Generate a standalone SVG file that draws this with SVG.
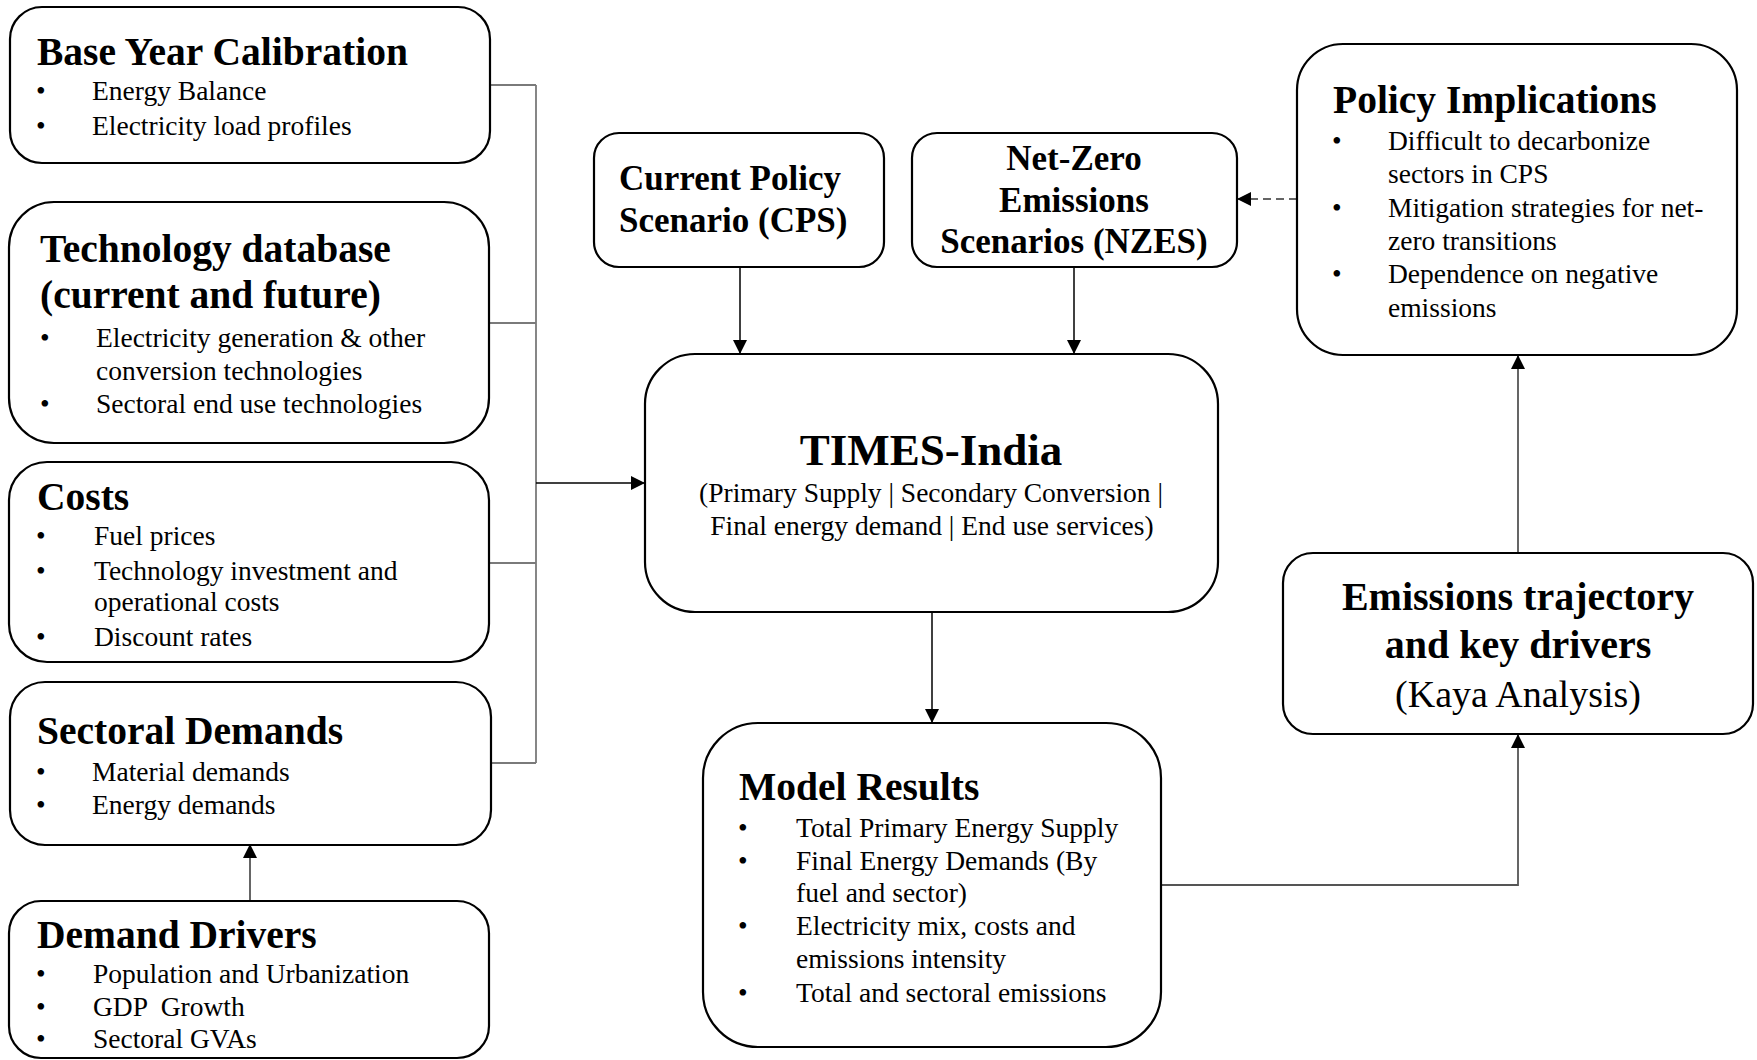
<svg xmlns="http://www.w3.org/2000/svg" width="1757" height="1060" viewBox="0 0 1757 1060">
<style>
.box{fill:#fff;stroke:#000;stroke-width:2.2}
.h{font-family:'Liberation Serif','Times New Roman',serif;font-weight:bold;font-size:39.5px;fill:#000}
.hs{font-family:'Liberation Serif','Times New Roman',serif;font-weight:bold;font-size:35px;fill:#000}
.b{font-family:'Liberation Serif','Times New Roman',serif;font-size:27.5px;fill:#000;white-space:pre}
.mid{text-anchor:middle}
.conn{fill:none;stroke:#000;stroke-width:1.5}
.bus{fill:none;stroke:#7a7a7a;stroke-width:1.8}
.gray{fill:none;stroke:#555;stroke-width:1.8}
.dash{fill:none;stroke:#333;stroke-width:1.5;stroke-dasharray:8 5}
</style>
<defs>
<marker id="ah" markerUnits="userSpaceOnUse" markerWidth="14" markerHeight="14" refX="14" refY="7" orient="auto">
<path d="M0,0 L14,7 L0,14 z" fill="#000"/>
</marker>
</defs>
<g id="connectors">
<path class="bus" d="M490,85 H536 M490,323 H536 M490,563 H536 M491,763 H536 M536,85 V763"/>
<path class="conn" d="M536,483 H645" marker-end="url(#ah)"/>
<path class="conn" d="M740,267 V354" marker-end="url(#ah)"/>
<path class="conn" d="M1074,267 V354" marker-end="url(#ah)"/>
<path class="conn" d="M932,612 V723" marker-end="url(#ah)"/>
<path class="gray" d="M1161,885 H1518 V734" marker-end="url(#ah)"/>
<path class="gray" d="M1518,553 V355" marker-end="url(#ah)"/>
<path class="dash" d="M1297,199 H1237" marker-end="url(#ah)"/>
<path class="gray" d="M250,901 V844" marker-end="url(#ah)"/>
</g>
<g id="base-year">
<rect class="box" x="10" y="7" width="480" height="156" rx="32"/>
<text class="h" x="37" y="65">Base Year Calibration</text>
<text class="b" x="36" y="100">•</text><text class="b" x="92" y="100">Energy Balance</text>
<text class="b" x="36" y="135">•</text><text class="b" x="92" y="135">Electricity load profiles</text>
</g>
<g id="technology">
<rect class="box" x="9" y="202" width="480" height="241" rx="45"/>
<text class="h" x="40" y="262">Technology database</text>
<text class="h" x="40" y="308">(current and future)</text>
<text class="b" x="40" y="347">•</text><text class="b" x="96" y="347">Electricity generation &amp; other</text>
<text class="b" x="96" y="380">conversion technologies</text>
<text class="b" x="40" y="413">•</text><text class="b" x="96" y="413">Sectoral end use technologies</text>
</g>
<g id="costs">
<rect class="box" x="9" y="462" width="480" height="200" rx="38"/>
<text class="h" x="37" y="510">Costs</text>
<text class="b" x="36" y="545">•</text><text class="b" x="94" y="545">Fuel prices</text>
<text class="b" x="36" y="580">•</text><text class="b" x="94" y="580">Technology investment and</text>
<text class="b" x="94" y="611">operational costs</text>
<text class="b" x="36" y="646">•</text><text class="b" x="94" y="646">Discount rates</text>
</g>
<g id="sectoral-demands">
<rect class="box" x="10" y="682" width="481" height="163" rx="35"/>
<text class="h" x="37" y="744">Sectoral Demands</text>
<text class="b" x="36" y="781">•</text><text class="b" x="92" y="781">Material demands</text>
<text class="b" x="36" y="814">•</text><text class="b" x="92" y="814">Energy demands</text>
</g>
<g id="demand-drivers">
<rect class="box" x="9" y="901" width="480" height="157" rx="32"/>
<text class="h" x="37" y="948">Demand  Drivers</text>
<text class="b" x="36" y="983">•</text><text class="b" x="93" y="983">Population and Urbanization</text>
<text class="b" x="36" y="1016">•</text><text class="b" x="93" y="1016">GDP  Growth</text>
<text class="b" x="36" y="1048">•</text><text class="b" x="93" y="1048">Sectoral GVAs</text>
</g>
<g id="cps">
<rect class="box" x="594" y="133" width="290" height="134" rx="25"/>
<text class="hs" x="619" y="190">Current Policy</text>
<text class="hs" x="619" y="232">Scenario (CPS)</text>
</g>
<g id="nzes">
<rect class="box" x="912" y="133" width="325" height="134" rx="25"/>
<text class="hs mid" x="1074" y="170">Net-Zero</text>
<text class="hs mid" x="1074" y="212">Emissions</text>
<text class="hs mid" x="1074" y="253">Scenarios (NZES)</text>
</g>
<g id="times-india">
<rect class="box" x="645" y="354" width="573" height="258" rx="50"/>
<text class="h mid" x="931" y="465" style="font-size:45px">TIMES-India</text>
<text class="b mid" x="931" y="502">(Primary Supply | Secondary Conversion |</text>
<text class="b mid" x="932" y="535">Final energy demand | End use services)</text>
</g>
<g id="model-results">
<rect class="box" x="703" y="723" width="458" height="324" rx="55"/>
<text class="h" x="739" y="800">Model Results</text>
<text class="b" x="738" y="837">•</text><text class="b" x="796" y="837">Total Primary Energy Supply</text>
<text class="b" x="738" y="870">•</text><text class="b" x="796" y="870">Final Energy Demands (By</text>
<text class="b" x="796" y="902">fuel and sector)</text>
<text class="b" x="738" y="935">•</text><text class="b" x="796" y="935">Electricity mix, costs and</text>
<text class="b" x="796" y="968">emissions intensity</text>
<text class="b" x="738" y="1002">•</text><text class="b" x="796" y="1002">Total and sectoral emissions</text>
</g>
<g id="policy-implications">
<rect class="box" x="1297" y="44" width="440" height="311" rx="46"/>
<text class="h" x="1333" y="113">Policy Implications</text>
<text class="b" x="1332" y="150">•</text><text class="b" x="1388" y="150">Difficult to decarbonize</text>
<text class="b" x="1388" y="183">sectors in CPS</text>
<text class="b" x="1332" y="217">•</text><text class="b" x="1388" y="217">Mitigation strategies for net-</text>
<text class="b" x="1388" y="250">zero transitions</text>
<text class="b" x="1332" y="283">•</text><text class="b" x="1388" y="283">Dependence on negative</text>
<text class="b" x="1388" y="317">emissions</text>
</g>
<g id="emissions-trajectory">
<rect class="box" x="1283" y="553" width="470" height="181" rx="30"/>
<text class="h mid" x="1518" y="610" style="font-size:40px">Emissions trajectory</text>
<text class="h mid" x="1518" y="658" style="font-size:40px">and key drivers</text>
<text class="b mid" x="1518" y="707" style="font-size:38px">(Kaya Analysis)</text>
</g>
</svg>
